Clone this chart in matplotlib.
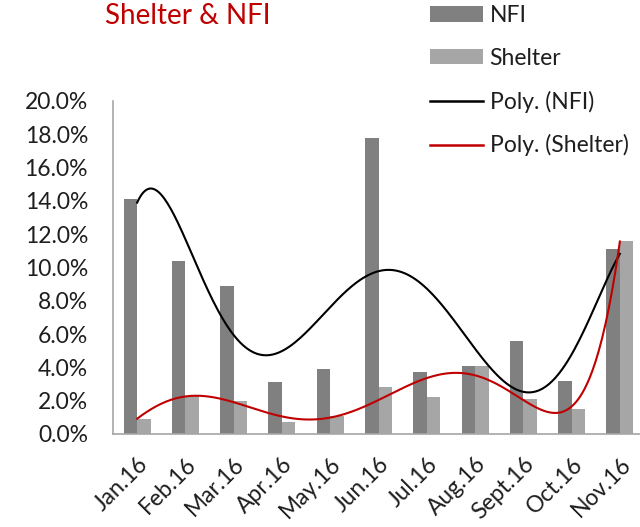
import numpy as np
import matplotlib
matplotlib.use('Agg')
import matplotlib.pyplot as plt
from matplotlib.ticker import FuncFormatter

# Monthly shares (%)
months = ['Jan.16', 'Feb.16', 'Mar.16', 'Apr.16', 'May.16', 'Jun.16',
          'Jul.16', 'Aug.16', 'Sept.16', 'Oct.16', 'Nov.16']
nfi = [14.1, 10.4, 8.9, 3.1, 3.9, 17.8, 3.7, 4.1, 5.6, 3.2, 11.1]
shelter = [0.9, 2.3, 2.0, 0.7, 1.1, 2.8, 2.2, 4.1, 2.1, 1.5, 11.6]

plt.rcParams['font.family'] = ['Lato', 'DejaVu Sans']

fig = plt.figure(figsize=(6.4, 5.27), dpi=100)
ax = fig.add_axes([113 / 640, 93 / 527, 531 / 640, 333 / 527])

x = np.arange(len(months))
w = 0.28
b1 = ax.bar(x - w / 2, nfi, w, color='#808080', label='NFI')
b2 = ax.bar(x + w / 2, shelter, w, color='#A6A6A6', label='Shelter')

# polynomial trendlines like Excel (x = 1..n, order 6)
xs = np.linspace(0, len(months) - 1, 300)
p_nfi = np.polyfit(x + 1, nfi, 6)
p_sh = np.polyfit(x + 1, shelter, 6)
l1, = ax.plot(xs, np.polyval(p_nfi, xs + 1), color='black', lw=1.5, label='Poly. (NFI)')
l2, = ax.plot(xs, np.polyval(p_sh, xs + 1), color='#C00000', lw=1.5, label='Poly. (Shelter)')

ax.set_xlim(-0.5, len(months) - 0.5)
ax.set_ylim(0, 20)
ax.set_yticks(np.arange(0, 21, 2))
ax.yaxis.set_major_formatter(FuncFormatter(lambda v, p: f'{v:.1f}%'))
ax.set_xticks(x)
ax.set_xticklabels(months, rotation=45, ha='right', rotation_mode='anchor')
ax.tick_params(length=0, labelsize=16.5, colors='#1e1e1e')
ax.tick_params(axis='y', pad=18)
ax.tick_params(axis='x', pad=14)

for s in ['top', 'right']:
    ax.spines[s].set_visible(False)
for s in ['left', 'bottom']:
    ax.spines[s].set_color('#A6A6A6')
    ax.spines[s].set_linewidth(1.2)

fig.text(105 / 640, 1 - 16 / 527, 'Shelter & NFI', color='#C00000', fontsize=20,
         va='center', ha='left')

leg = fig.legend([b1, b2, l1, l2], ['NFI', 'Shelter', 'Poly. (NFI)', 'Poly. (Shelter)'],
                 loc='upper left', bbox_to_anchor=(430 / 640, 1 - 5 / 527),
                 frameon=False, borderpad=0, borderaxespad=0,
                 fontsize=16.5, handlelength=2.3, handleheight=0.65,
                 labelspacing=0.95, handletextpad=0.3)
for t in leg.get_texts():
    t.set_color('#1e1e1e')
for h in leg.legend_handles[2:]:
    h.set_linewidth(1.8)

fig.savefig('out.png', dpi=100)
